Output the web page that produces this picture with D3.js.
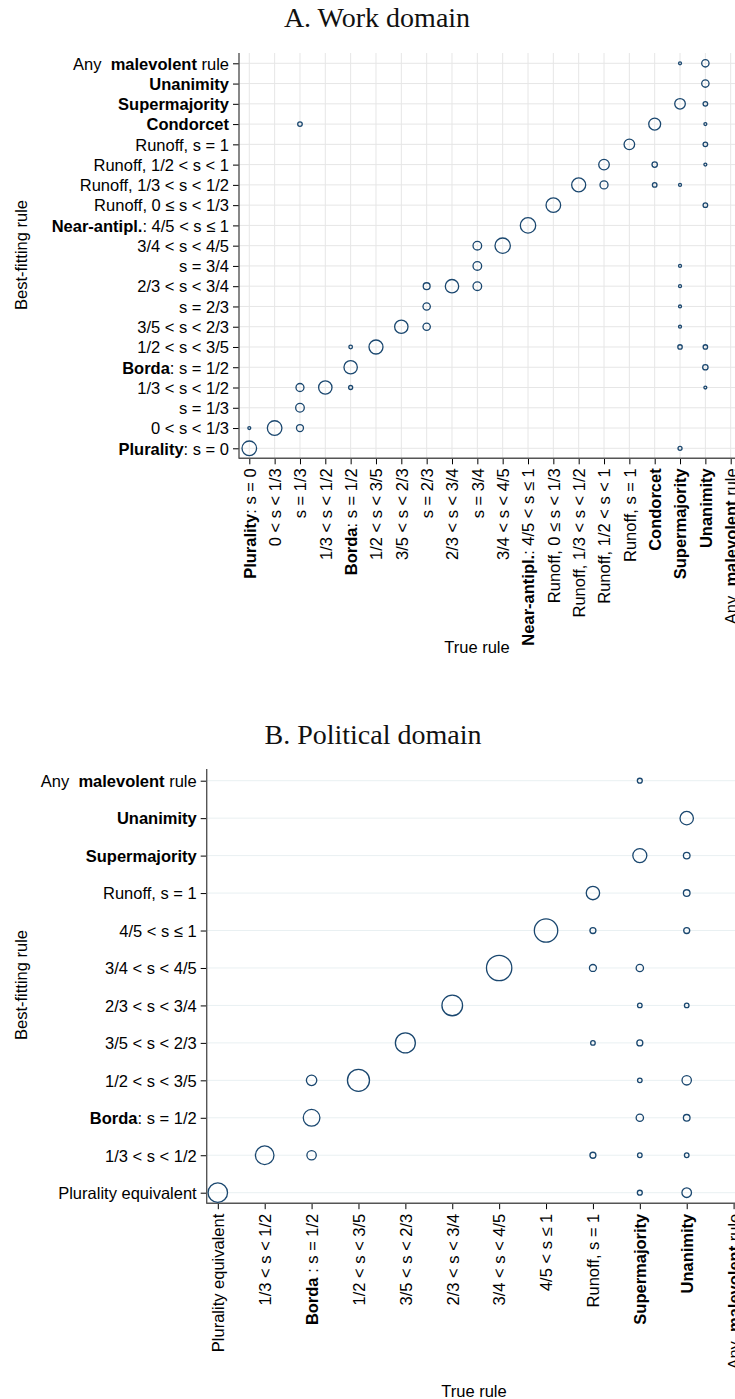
<!DOCTYPE html>
<html>
<head>
<meta charset="utf-8">
<script src="https://cdn.jsdelivr.net/npm/d3@7"></script>
<style>
html,body{margin:0;padding:0;background:#fff;}
svg{display:block;}
</style>
</head>
<body>
<svg id="chart" width="735" height="1399"></svg>
<script>
// ---------- Panel A: Work domain ----------
const titleA = "A. Work domain";
const categoriesA = [
  "**Plurality**: s = 0", "0 < s < 1/3", "s = 1/3", "1/3 < s < 1/2",
  "**Borda**: s = 1/2", "1/2 < s < 3/5", "3/5 < s < 2/3", "s = 2/3",
  "2/3 < s < 3/4", "s = 3/4", "3/4 < s < 4/5", "**Near-antipl.**: 4/5 < s ≤ 1",
  "Runoff, 0 ≤ s < 1/3", "Runoff, 1/3 < s < 1/2", "Runoff, 1/2 < s < 1", "Runoff, s = 1",
  "**Condorcet**", "**Supermajority**", "**Unanimity**", "Any  **malevolent** rule"
];
// index of true rule (x), index of best-fitting rule (y), relative frequency
const trueRuleA = [17,18, 18, 17,18, 2,16,18, 15,18, 14,16,18, 13,14,16,17, 12,18, 11, 10,9, 9, 17,
  8,9,7,17, 7,17, 6,7,17, 5,4,17,18, 4,18, 3,2,4,18, 2, 0,1,2, 0,17];
const bestRuleA = [19,19, 18, 17,17, 16,16,16, 15,15, 14,14,14, 13,13,13,13, 12,12, 11, 10,10, 9, 9,
  8,8,8,8, 7,7, 6,6,6, 5,5,5,5, 4,4, 3,3,3,3, 2, 1,1,1, 0,0];
const freqA = [1.3,8, 8, 16.6,3.1, 3.1,21,1.3, 16.6,3.1, 16.6,4.3,1.3, 29,9.5,3.1,1.3, 31.5,3.1, 35, 35,11, 11, 1.3,
  26.5,11,7,1.3, 8,1.3, 26.5,8,1.3, 29,1.9,2.9,2.9, 26.5,4.3, 26.5,9.5,2.4,1.3, 11, 1.3,31.5,7.2, 31.5,2.4];

// ---------- Panel B: Political domain ----------
const titleB = "B. Political domain";
const categoriesB = [
  "Plurality equivalent", "1/3 < s < 1/2", "**Borda**: s = 1/2", "1/2 < s < 3/5",
  "3/5 < s < 2/3", "2/3 < s < 3/4", "3/4 < s < 4/5", "4/5 < s ≤ 1",
  "Runoff, s = 1", "**Supermajority**", "**Unanimity**", "Any  **malevolent** rule"
];
const xTickLabelsB = [
  "Plurality equivalent", "1/3 < s < 1/2", "**Borda** : s = 1/2", "1/2 < s < 3/5",
  "3/5 < s < 2/3", "2/3 < s < 3/4", "3/4 < s < 4/5", "4/5 < s ≤ 1",
  "Runoff, s = 1", "**Supermajority**", "**Unanimity**", "Any  **malevolent** rule"
];
const trueRuleB = [9, 10, 9,10, 8,10, 7,8,10, 6,8,9, 5,9,10, 4,8,9, 3,2,9,10, 2,9,10, 1,2,8,9,10, 0,9,10];
const bestRuleB = [11, 10, 9,9, 8,8, 7,7,7, 6,6,6, 5,5,5, 4,4,4, 3,3,3,3, 2,2,2, 1,1,1,1,1, 0,0,0];
const freqB = [3.6, 26.5, 29,6.5, 26.5,6.5, 81,5.3,5.3, 95,7.2,8, 63,3.1,3.1, 59,3.1,5.3, 72,16,3.1,13, 41,8,6.5, 51,13,5.3,3.1,3.1, 56,3.6,13.5];

const xTitle = "True rule";
const yTitle = "Best-fitting rule";

// ---------- drawing ----------
const svg = d3.select("#chart");
const FONT = "'Liberation Sans', Arial, Helvetica, sans-serif";
const SERIF = "'Liberation Serif', 'Times New Roman', serif";
const NAVY = "#1a476f";
const FS = 16.5;

function richText(textSel, label) {
  const parts = label.split("**");
  parts.forEach((p, i) => {
    if (p === "") return;
    const t = textSel.append("tspan").text(p);
    if (i % 2 === 1) t.attr("font-weight", "bold");
  });
  textSel.attr("xml:space", "preserve").style("white-space", "pre");
}

function panel(cfg) {
  const g = svg.append("g");
  const x = d3.scalePoint().domain(d3.range(cfg.cats.length)).range([cfg.x0, cfg.x1]);
  const y = d3.scalePoint().domain(d3.range(cfg.cats.length)).range([cfg.y0, cfg.y1]);
  const r = d3.scaleSqrt().domain([0, 100]).range([0, 13]);

  // grid
  if (cfg.vgrid) {
    g.append("g").selectAll("line").data(x.domain()).join("line")
      .attr("x1", d => x(d)).attr("x2", d => x(d))
      .attr("y1", cfg.top).attr("y2", cfg.bottom)
      .attr("stroke", cfg.gridColor).attr("stroke-width", 1);
  }
  g.append("g").selectAll("line").data(y.domain()).join("line")
    .attr("x1", cfg.left).attr("x2", 735)
    .attr("y1", d => y(d)).attr("y2", d => y(d))
    .attr("stroke", cfg.gridColor).attr("stroke-width", 1);

  // axes via d3
  const yAxis = d3.axisLeft(y).tickSize(6).tickSizeOuter(0).tickFormat(() => "");
  const yg = g.append("g").attr("transform", `translate(${cfg.left},0)`).call(yAxis);
  yg.select(".domain").remove();
  yg.selectAll(".tick line").attr("stroke", "#000").attr("stroke-width", 1);
  yg.selectAll(".tick text").remove();
  yg.selectAll(".tick").append("text")
    .attr("x", -10).attr("dy", "0.35em").attr("text-anchor", "end")
    .attr("fill", "#000").attr("font-family", FONT).attr("font-size", FS)
    .each(function(d) { richText(d3.select(this), cfg.cats[d]); });

  const xAxis = d3.axisBottom(x).tickSize(6).tickSizeOuter(0).tickFormat(() => "");
  const xg = g.append("g").attr("transform", `translate(0,${cfg.bottom})`).call(xAxis);
  xg.select(".domain").remove();
  xg.selectAll(".tick line").attr("stroke", "#000").attr("stroke-width", 1);
  xg.selectAll(".tick text").remove();
  xg.selectAll(".tick").append("text")
    .attr("transform", `translate(0,${cfg.labelGap}) rotate(-90)`)
    .attr("dy", "0.35em").attr("text-anchor", "end")
    .attr("fill", "#000").attr("font-family", FONT).attr("font-size", FS)
    .each(function(d) { richText(d3.select(this), cfg.xLabels[d]); });

  // axis lines
  g.append("line").attr("x1", cfg.left).attr("x2", cfg.left)
    .attr("y1", cfg.top).attr("y2", cfg.bottom + 0.5)
    .attr("stroke", "#555").attr("stroke-width", 1.4);
  g.append("line").attr("x1", cfg.left).attr("x2", 735)
    .attr("y1", cfg.bottom).attr("y2", cfg.bottom)
    .attr("stroke", "#555").attr("stroke-width", 1.4);

  // markers
  const pts = cfg.tx.map((t, i) => ({t, b: cfg.by[i], v: cfg.f[i]}));
  g.append("g").selectAll("circle").data(pts).join("circle")
    .attr("cx", d => x(d.t)).attr("cy", d => y(d.b)).attr("r", d => r(d.v))
    .attr("fill", "none").attr("stroke", NAVY).attr("stroke-width", 1.3);

  // titles
  g.append("text").attr("x", cfg.titleX).attr("y", cfg.titleY).attr("text-anchor", "middle")
    .attr("font-family", SERIF).attr("font-size", 28).attr("fill", "#111").text(cfg.title);
  g.append("text").attr("transform", `translate(${cfg.yTitleX},${cfg.yTitleY}) rotate(-90)`)
    .attr("text-anchor", "middle").attr("dy", "0.35em")
    .attr("font-family", FONT).attr("font-size", FS).attr("fill", "#000").text(yTitle);
  g.append("text").attr("x", cfg.xTitleX).attr("y", cfg.xTitleY).attr("text-anchor", "middle")
    .attr("dy", "0.35em").attr("font-family", FONT).attr("font-size", FS).attr("fill", "#000").text(xTitle);
}

panel({
  cats: categoriesA, xLabels: categoriesA, tx: trueRuleA, by: bestRuleA, f: freqA,
  x0: 249.3, x1: 730.7, y0: 448.3, y1: 63.3,
  left: 239, top: 53, bottom: 458.3, labelGap: 10,
  vgrid: true, gridColor: "#e6e6e6",
  title: titleA, titleX: 377, titleY: 27,
  yTitleX: 21, yTitleY: 255, xTitleX: 477, xTitleY: 647
});

panel({
  cats: categoriesB, xLabels: xTickLabelsB, tx: trueRuleB, by: bestRuleB, f: freqB,
  x0: 217.8, x1: 733.6, y0: 1192.7, y1: 780.7,
  left: 206.7, top: 769, bottom: 1203.2, labelGap: 10.5,
  vgrid: false, gridColor: "#e9f0f2",
  title: titleB, titleX: 373, titleY: 744,
  yTitleX: 21, yTitleY: 985, xTitleX: 474, xTitleY: 1391
});
</script>
</body>
</html>
